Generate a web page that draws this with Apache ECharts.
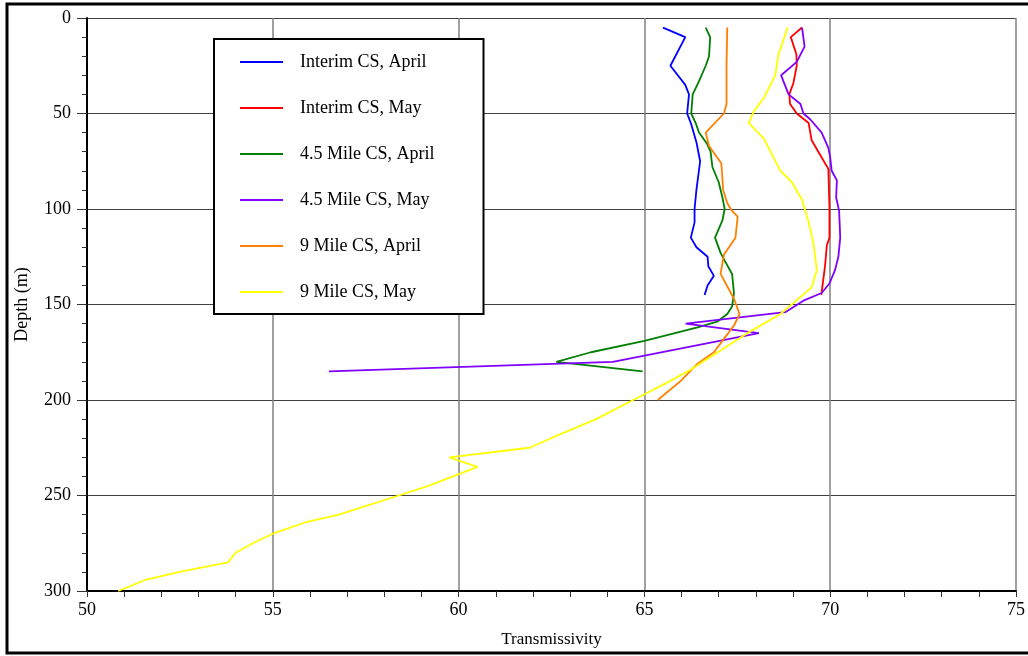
<!DOCTYPE html>
<html>
<head>
<meta charset="utf-8">
<script src="https://cdn.jsdelivr.net/npm/echarts@6/dist/echarts.min.js"></script>
<style>
html,body{margin:0;padding:0;background:#fff;}
#chart{width:1028px;height:656px;}
</style>
</head>
<body>
<div id="chart"></div>
<script>
// Tick labels
const xTicks = [50, 55, 60, 65, 70, 75];
const yTicks = [0, 50, 100, 150, 200, 250, 300];

// Series names
const seriesNames = ["Interim CS, April", "Interim CS, May", "4.5 Mile CS, April", "4.5 Mile CS, May", "9 Mile CS, April", "9 Mile CS, May"];

// Interim CS, April
const interimAprDepth = [5,10,25,35,40,50,55,65,75,90,100,107,115,120,125,130,135,140,145];
const interimAprValue = [65.5,66.1,65.7,66.1,66.2,66.15,66.25,66.4,66.5,66.4,66.35,66.35,66.25,66.4,66.7,66.72,66.87,66.7,66.62];

// Interim CS, May
const interimMayDepth = [5,10,19,25,34,40,45,50,55,64,70,79,99,115,119,130,145];
const interimMayValue = [69.24,68.94,69.09,69.1,69.01,68.9,68.92,69.1,69.42,69.5,69.68,69.95,69.98,69.98,69.91,69.86,69.76];

// 4.5 Mile CS, April
const mile45AprDepth = [5,10,20,25,33,40,50,55,60,66,70,78,86,94,100,106,115,123,127,134,144,151,155,159,162,169,175,180,185];
const mile45AprValue = [66.65,66.77,66.74,66.65,66.47,66.3,66.26,66.38,66.47,66.69,66.78,66.83,67.0,67.1,67.16,67.1,66.9,67.05,67.16,67.36,67.41,67.36,67.23,66.96,66.43,65.0,63.56,62.63,64.95];

// 4.5 Mile CS, May
const mile45MayDepth = [5,9,15,23,30,40,45,50,53,60,68,73,80,85,94,101,115,125,132,139,144,148,154,160,165,180,185];
const mile45MayValue = [69.24,69.27,69.31,69.1,68.68,68.88,69.2,69.28,69.46,69.77,69.95,70.0,70.04,70.18,70.16,70.24,70.27,70.22,70.13,69.98,69.77,69.28,68.79,66.11,68.08,64.15,56.51];

// 9 Mile CS, April
const mile9AprDepth = [5,25,45,50,60,67,76,90,97,101,104,115,124,134,147,155,161,168,175,181,190,200];
const mile9AprValue = [67.23,67.21,67.21,67.14,66.65,66.74,67.07,67.12,67.23,67.36,67.51,67.45,67.14,67.05,67.41,67.56,67.41,67.14,66.87,66.43,65.98,65.36];

// 9 Mile CS, May
const mile9MayDepth = [5,11,19,30,42,49,55,63,80,86,95,107,118,132,141,149,155,165,184,190,197,200,210,220,225,230,235,245,250,260,264,270,275,280,285,290,294,300];
const mile9MayValue = [68.85,68.75,68.61,68.52,68.21,67.94,67.81,68.21,68.66,68.97,69.24,69.42,69.55,69.64,69.5,69.02,68.66,67.77,66.25,65.7,65.0,64.7,63.7,62.49,61.91,59.75,60.51,59.19,58.39,56.78,55.89,55.0,54.46,54.0,53.79,52.49,51.6,50.84];

const seriesDepths = [interimAprDepth, interimMayDepth, mile45AprDepth, mile45MayDepth, mile9AprDepth, mile9MayDepth];
const seriesValues = [interimAprValue, interimMayValue, mile45AprValue, mile45MayValue, mile9AprValue, mile9MayValue];
const colors = ['#0000ff', '#ff0000', '#008000', '#8000ff', '#ff8000', '#ffff00'];

const FONT = "'Liberation Serif', 'DejaVu Serif', serif";

const chart = echarts.init(document.getElementById('chart'), null, {renderer: 'canvas'});

const series = seriesNames.map((name, i) => ({
  name: name,
  type: 'line',
  symbol: 'none',
  smooth: false,
  color: colors[i],
  itemStyle: {color: colors[i]},
  lineStyle: {width: 1.8, color: colors[i]},
  data: seriesDepths[i].map((d, k) => [seriesValues[i][k], d]),
  z: 3
}));

chart.setOption({
  animation: false,
  backgroundColor: '#ffffff',
  grid: {left: 87, top: 18, right: 5, bottom: 65, containLabel: false},
  graphic: [{
    type: 'rect',
    shape: {x: 7, y: 4, width: 1040, height: 649},
    style: {fill: 'none', stroke: '#000', lineWidth: 3},
    silent: true, z: -1
  }],
  legend: {
    orient: 'vertical',
    left: 214,
    top: 39,
    padding: [13, 49, 12, 26],
    icon: 'rect',
    itemWidth: 43,
    itemHeight: 2,
    itemGap: 26,
    backgroundColor: '#fff',
    borderColor: '#000',
    borderWidth: 2,
    borderRadius: 0,
    textStyle: {fontFamily: FONT, fontSize: 18, color: '#000', lineHeight: 20, padding: [0, 0, 0, 12]},
    data: seriesNames
  },
  xAxis: {
    type: 'value',
    min: xTicks[0],
    max: xTicks[xTicks.length - 1],
    interval: 5,
    name: 'Transmissivity',
    nameLocation: 'middle',
    nameGap: 40,
    nameTextStyle: {fontFamily: FONT, fontSize: 17, color: '#000'},
    axisLine: {show: true, onZero: false, lineStyle: {color: '#000', width: 2}},
    axisTick: {show: true, inside: false, length: 6, lineStyle: {color: '#333'}},
    minorTick: {show: true, splitNumber: 5, length: 6, lineStyle: {color: '#333'}},
    axisLabel: {fontFamily: FONT, fontSize: 18, color: '#000', margin: 10},
    splitLine: {show: true, lineStyle: {color: '#808080', width: 1.5}}
  },
  yAxis: {
    type: 'value',
    inverse: true,
    min: yTicks[0],
    max: yTicks[yTicks.length - 1],
    interval: 50,
    name: 'Depth (m)',
    nameLocation: 'middle',
    nameRotate: 90,
    nameGap: 56,
    nameTextStyle: {fontFamily: FONT, fontSize: 18, color: '#000'},
    axisLine: {show: true, onZero: false, lineStyle: {color: '#000', width: 2}},
    axisTick: {show: true, inside: false, length: 10, lineStyle: {color: '#333'}},
    minorTick: {show: true, splitNumber: 5, length: 5, lineStyle: {color: '#333'}},
    axisLabel: {fontFamily: FONT, fontSize: 18, color: '#000', margin: 16},
    splitLine: {show: true, lineStyle: {color: '#404040', width: 1.2}}
  },
  series: series
});
</script>
</body>
</html>
